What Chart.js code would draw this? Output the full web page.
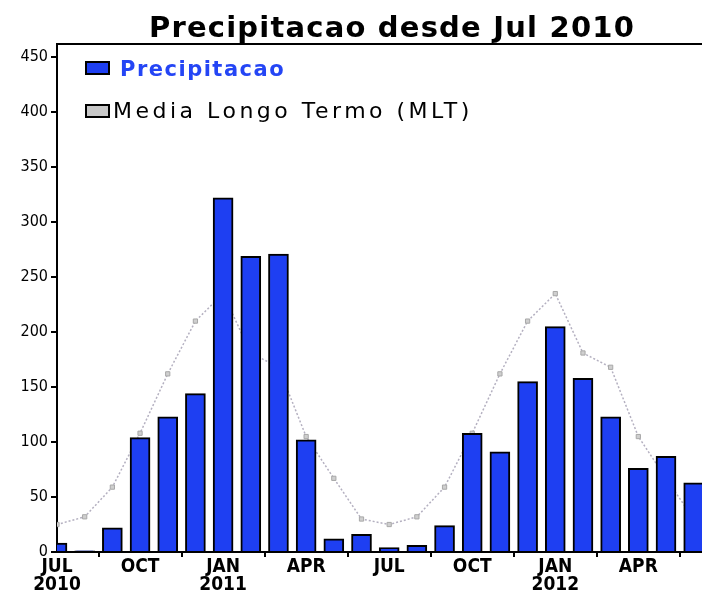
<!DOCTYPE html>
<html>
<head>
<meta charset="utf-8">
<script src="https://cdn.jsdelivr.net/npm/chart.js@4/dist/chart.umd.min.js"></script>
<style>
  html, body { margin: 0; padding: 0; background: #fff; }
  #wrap { width: 702px; height: 598px; }
</style>
</head>
<body>
<div id="wrap"><canvas id="precipChart" width="702" height="598"></canvas></div>
<script>
// month index 0 = Jul 2010 ... 23 = Jun 2012
const monthIdx = [0,1,2,3,4,5,6,7,8,9,10,11,12,13,14,15,16,17,18,19,20,21,22,23];
const precip = [8, 1, 22, 104, 123, 144, 322, 269, 271, 102, 12, 16, 4, 6, 24, 108, 91, 155, 205, 158, 123, 76, 87, 63];
const mlt = [25, 32, 59, 108, 162, 210, 235, 181, 168, 105, 67, 30, 25, 32, 59, 108, 162, 210, 235, 181, 168, 105, 67, 30];
const tickPos = [0, 3, 6, 9, 12, 15, 18, 21];
const tickText = [['JUL', '2010'], 'OCT', ['JAN', '2011'], 'APR', 'JUL', 'OCT', ['JAN', '2012'], 'APR'];
const yTicks = [0, 50, 100, 150, 200, 250, 300, 350, 400, 450];
const titleText = 'Precipitacao desde Jul 2010';
const legendText = ['Precipitacao', 'Media Longo Termo (MLT)'];

const narrow = '"Liberation Sans Narrow", "DejaVu Sans Condensed", "Liberation Sans", sans-serif';

// title + in-plot legend + top frame line
const decor = {
  id: 'decor',
  afterDraw(chart) {
    const ctx = chart.ctx, a = chart.chartArea;
    ctx.save();
    ctx.strokeStyle = '#000'; ctx.lineWidth = 2;
    ctx.beginPath(); ctx.moveTo(a.left - 1, a.top); ctx.lineTo(chart.width, a.top); ctx.stroke();

    ctx.fillStyle = '#000';
    ctx.font = 'bold 29px "DejaVu Sans", sans-serif';
    ctx.letterSpacing = '1.2px';
    ctx.textAlign = 'center'; ctx.textBaseline = 'alphabetic';
    ctx.fillText(titleText, 392, 37);

    ctx.textAlign = 'left';
    ctx.lineWidth = 2;
    // item 1
    ctx.fillStyle = '#1e3ff2'; ctx.fillRect(86, 62, 23, 12);
    ctx.strokeStyle = '#000'; ctx.strokeRect(86, 62, 23, 12);
    ctx.fillStyle = '#2445f5';
    ctx.font = 'bold 21px "DejaVu Sans", sans-serif';
    ctx.letterSpacing = '1.5px';
    ctx.fillText(legendText[0], 120, 76);
    // item 2
    ctx.fillStyle = '#c8c8c8'; ctx.fillRect(86, 105, 23, 12);
    ctx.strokeStyle = '#000'; ctx.strokeRect(86, 105, 23, 12);
    ctx.fillStyle = '#000';
    ctx.font = '22px "DejaVu Sans", sans-serif';
    ctx.letterSpacing = '3.5px';
    ctx.fillText(legendText[1], 113, 118);
    ctx.restore();
  }
};

new Chart(document.getElementById('precipChart'), {
  type: 'bar',
  data: {
    datasets: [
      {
        type: 'bar', label: legendText[0], order: 1,
        data: monthIdx.map((m, i) => ({ x: m, y: precip[i] })),
        backgroundColor: '#1e3ff2', borderColor: '#000', borderWidth: 2,
        barThickness: 20
      },
      {
        type: 'line', label: legendText[1], order: 2,
        data: monthIdx.map((m, i) => ({ x: m, y: mlt[i] })),
        borderColor: '#b4b0c0', borderWidth: 1.5, borderDash: [2, 2],
        pointStyle: 'rect', pointRadius: 3,
        pointBackgroundColor: '#cfcfcf', pointBorderColor: '#a8a8a8', pointBorderWidth: 1,
        tension: 0
      }
    ]
  },
  options: {
    responsive: false, animation: false,
    layout: { autoPadding: false, padding: { top: 44, right: 0, left: 0, bottom: 0 } },
    plugins: { legend: { display: false }, title: { display: false }, tooltip: { enabled: false } },
    scales: {
      x: {
        type: 'linear', min: 0, max: 23.3, offset: false,
        grid: { display: true, drawOnChartArea: false, drawTicks: true, tickLength: 5, color: '#000', lineWidth: 2 },
        border: { display: true, color: '#000', width: 2 },
        afterBuildTicks(s) { s.ticks = tickPos.map(v => ({ value: v })); },
        afterFit(s) { s.height = 46; },
        ticks: {
          autoSkip: false, maxRotation: 0, padding: 1, color: '#000',
          font: { family: narrow, size: 19, weight: 'bold', lineHeight: 0.95 },
          callback(v) { const k = tickPos.indexOf(v); return k >= 0 ? tickText[k] : ''; }
        }
      },
      y: {
        min: 0, max: 462,
        grid: { display: true, drawOnChartArea: false, drawTicks: true, tickLength: 6, color: '#000', lineWidth: 2 },
        border: { display: true, color: '#000', width: 2 },
        afterBuildTicks(s) { s.ticks = yTicks.map(v => ({ value: v })); },
        afterFit(s) { s.width = 57; },
        ticks: {
          padding: 3, color: '#000',
          font: { family: narrow, size: 16 }
        }
      }
    }
  },
  plugins: [decor]
});
</script>
</body>
</html>
